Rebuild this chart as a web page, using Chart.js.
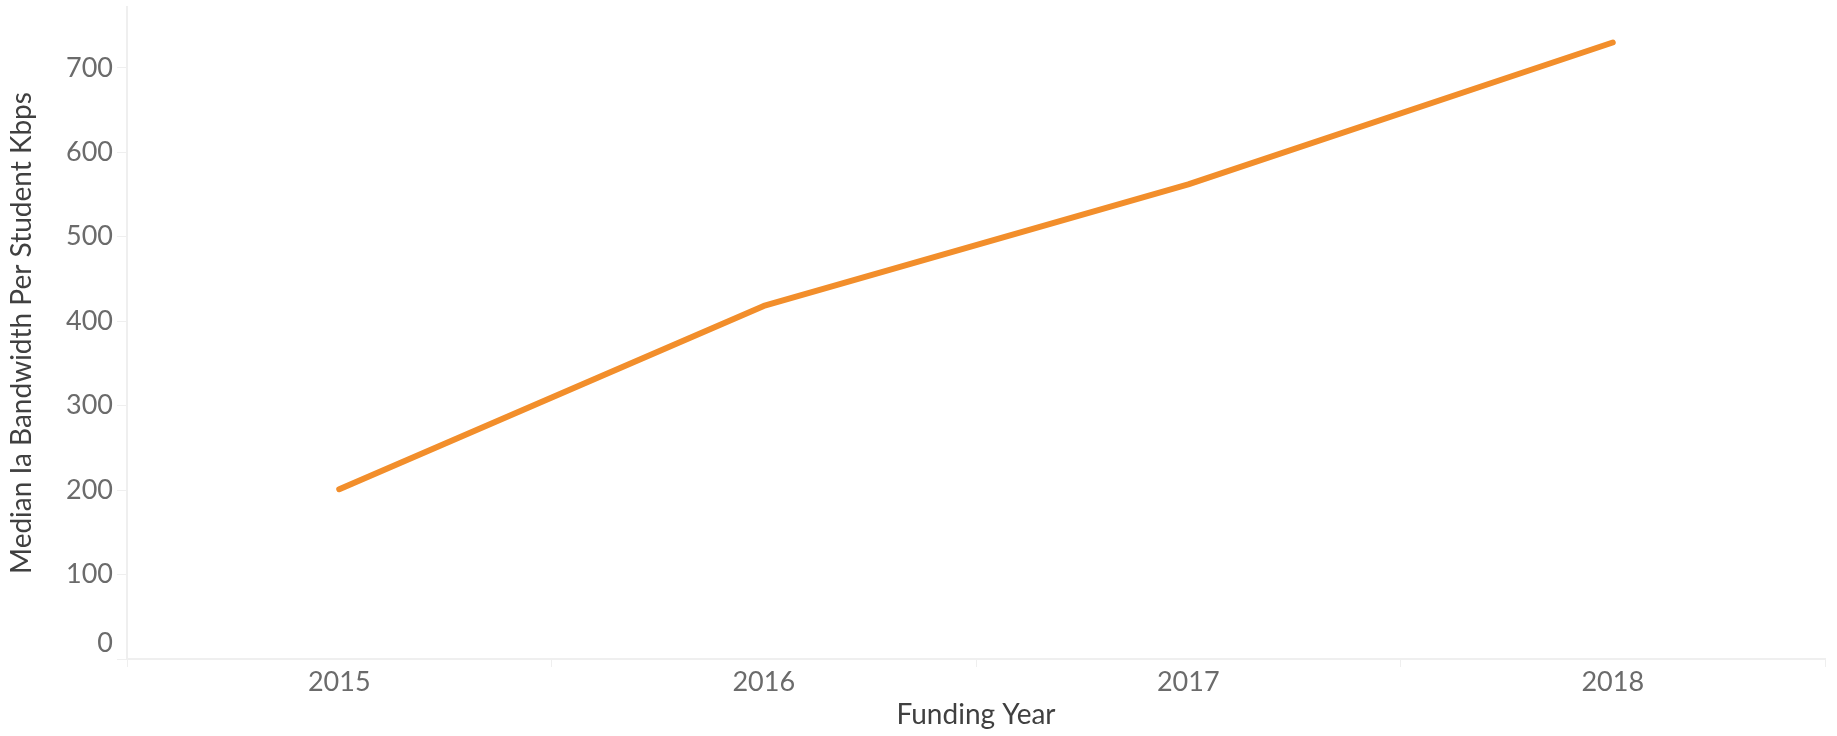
<!DOCTYPE html>
<html lang="en">
<head>
<meta charset="UTF-8">
<title>Median Ia Bandwidth Per Student Kbps</title>
<script src="https://cdn.jsdelivr.net/npm/chart.js@4/dist/chart.umd.min.js"></script>
<style>
    html, body { margin: 0; padding: 0; background: #ffffff; }
    #wrap { width: 1837px; height: 736px; position: relative; }
</style>
</head>
<body>
<div id="wrap"><canvas id="myChart"></canvas></div>

<script type="text/javascript">
// dati
var years = ["2015", "2016", "2017", "2018"];
var bandwidth = [201, 418, 562, 730];
var yTicks = [0, 100, 200, 300, 400, 500, 600, 700];
var yTitle = "Median Ia Bandwidth Per Student Kbps";
var xTitle = "Funding Year";

var axisColor = "#efefef";
var tickColor = "#6b6b6b";
var titleColor = "#404040";

const config = {
    type: "line",
    data: {
        labels: years,
        datasets: [{
            label: yTitle,
            data: bandwidth,
            borderColor: "#f28e2b",
            backgroundColor: "#f28e2b",
            borderWidth: 6,
            borderCapStyle: "round",
            borderJoinStyle: "round",
            pointRadius: 0,
            tension: 0
        }]
    },
    options: {
        responsive: true,
        maintainAspectRatio: false,
        animation: false,
        layout: { padding: { top: 7, right: 12, left: 0, bottom: 0 } },
        plugins: {
            legend: { display: false },
            tooltip: { enabled: false }
        },
        scales: {
            x: {
                offset: true,
                grid: {
                    offset: true,
                    drawOnChartArea: false,
                    color: axisColor,
                    tickLength: 8
                },
                border: { color: axisColor, width: 2 },
                ticks: {
                    color: tickColor,
                    font: { family: "Lato", size: 27 },
                    padding: -1,
                    maxRotation: 0
                },
                title: {
                    display: true,
                    text: xTitle,
                    color: titleColor,
                    font: { family: "Lato", size: 28 },
                    padding: { top: 0, bottom: 4 }
                },
                afterFit: function(scale) {
                    scale.height = 77;
                    scale.paddingLeft = 0;
                    scale.paddingRight = 0;
                }
            },
            y: {
                min: 0,
                max: 772,
                grid: {
                    drawOnChartArea: false,
                    color: axisColor,
                    tickLength: 10
                },
                border: { color: axisColor, width: 2 },
                ticks: {
                    color: tickColor,
                    font: { family: "Lato", size: 27 },
                    padding: 4,
                    // lo zero sta sopra l'asse, come nell'originale
                    callback: function(value) {
                        return value === 0 ? ["0", ""] : String(value);
                    }
                },
                title: {
                    display: true,
                    text: yTitle,
                    color: titleColor,
                    font: { family: "Lato", size: 28 },
                    padding: { top: 5, bottom: 0 }
                },
                afterBuildTicks: function(scale) {
                    scale.ticks = yTicks.map(function(v) { return { value: v }; });
                },
                afterFit: function(scale) {
                    scale.width = 127;
                    scale.paddingTop = 0;
                    scale.paddingBottom = 0;
                }
            }
        }
    }
};

var myChart = new Chart(document.getElementById("myChart"), config);
</script>
</body>
</html>
